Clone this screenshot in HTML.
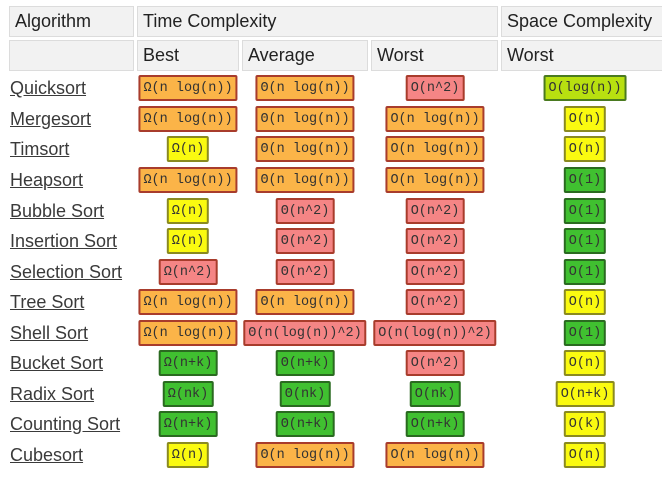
<!DOCTYPE html>
<html><head><meta charset="utf-8"><style>
body{margin:0;width:662px;height:478px;background:#fff;overflow:hidden;font-family:"Liberation Sans",sans-serif;position:relative}
.h{position:absolute;background:#f2f2f2;border:1px solid #dcdcdc;font-size:18px;color:#222;box-sizing:border-box;padding-left:5px;line-height:29px}
.r{position:absolute;left:0;width:662px;height:30px}
.a{position:absolute;left:10px;top:4px;font-size:18px;color:#3a3a3a;text-decoration:underline;line-height:22px}
.b{position:absolute;top:2px;height:26px;box-sizing:border-box;border:2px solid #a83c2c;border-radius:2px;font-family:"Liberation Mono",monospace;font-size:13.5px;line-height:23px;padding:0 3px;transform:translateX(-50%);white-space:nowrap;color:#333}
.o{background:#fbb448}.rd{background:#f58585}.y{background:#fafa10;border-color:#8a8a20}.g{background:#40c030;border-color:#2a6a20}.l{background:#b8e010;border-color:#4a7a20}
.c1{left:188px}.c2{left:305px}.c3{left:435px}.c4{left:585px}
</style></head><body>
<div class="h" style="left:9px;top:6px;width:125px;height:31px">Algorithm</div>
<div class="h" style="left:137px;top:6px;width:361px;height:31px">Time Complexity</div>
<div class="h" style="left:501px;top:6px;width:170px;height:31px">Space Complexity</div>
<div class="h" style="left:9px;top:40px;width:125px;height:31px"></div>
<div class="h" style="left:137px;top:40px;width:102px;height:31px">Best</div>
<div class="h" style="left:242px;top:40px;width:126px;height:31px">Average</div>
<div class="h" style="left:371px;top:40px;width:127px;height:31px">Worst</div>
<div class="h" style="left:501px;top:40px;width:170px;height:31px">Worst</div>

<div class="r" style="top:73px"><span class="a">Quicksort</span><span class="b o c1">Ω(n log(n))</span><span class="b o c2">Θ(n log(n))</span><span class="b rd c3">O(n^2)</span><span class="b l c4">O(log(n))</span></div>
<div class="r" style="top:104px"><span class="a">Mergesort</span><span class="b o c1">Ω(n log(n))</span><span class="b o c2">Θ(n log(n))</span><span class="b o c3">O(n log(n))</span><span class="b y c4">O(n)</span></div>
<div class="r" style="top:134px"><span class="a">Timsort</span><span class="b y c1">Ω(n)</span><span class="b o c2">Θ(n log(n))</span><span class="b o c3">O(n log(n))</span><span class="b y c4">O(n)</span></div>
<div class="r" style="top:165px"><span class="a">Heapsort</span><span class="b o c1">Ω(n log(n))</span><span class="b o c2">Θ(n log(n))</span><span class="b o c3">O(n log(n))</span><span class="b g c4">O(1)</span></div>
<div class="r" style="top:196px"><span class="a">Bubble Sort</span><span class="b y c1">Ω(n)</span><span class="b rd c2">Θ(n^2)</span><span class="b rd c3">O(n^2)</span><span class="b g c4">O(1)</span></div>
<div class="r" style="top:226px"><span class="a">Insertion Sort</span><span class="b y c1">Ω(n)</span><span class="b rd c2">Θ(n^2)</span><span class="b rd c3">O(n^2)</span><span class="b g c4">O(1)</span></div>
<div class="r" style="top:257px"><span class="a">Selection Sort</span><span class="b rd c1">Ω(n^2)</span><span class="b rd c2">Θ(n^2)</span><span class="b rd c3">O(n^2)</span><span class="b g c4">O(1)</span></div>
<div class="r" style="top:287px"><span class="a">Tree Sort</span><span class="b o c1">Ω(n log(n))</span><span class="b o c2">Θ(n log(n))</span><span class="b rd c3">O(n^2)</span><span class="b y c4">O(n)</span></div>
<div class="r" style="top:318px"><span class="a">Shell Sort</span><span class="b o c1">Ω(n log(n))</span><span class="b rd c2">Θ(n(log(n))^2)</span><span class="b rd c3">O(n(log(n))^2)</span><span class="b g c4">O(1)</span></div>
<div class="r" style="top:348px"><span class="a">Bucket Sort</span><span class="b g c1">Ω(n+k)</span><span class="b g c2">Θ(n+k)</span><span class="b rd c3">O(n^2)</span><span class="b y c4">O(n)</span></div>
<div class="r" style="top:379px"><span class="a">Radix Sort</span><span class="b g c1">Ω(nk)</span><span class="b g c2">Θ(nk)</span><span class="b g c3">O(nk)</span><span class="b y c4">O(n+k)</span></div>
<div class="r" style="top:409px"><span class="a">Counting Sort</span><span class="b g c1">Ω(n+k)</span><span class="b g c2">Θ(n+k)</span><span class="b g c3">O(n+k)</span><span class="b y c4">O(k)</span></div>
<div class="r" style="top:440px"><span class="a">Cubesort</span><span class="b y c1">Ω(n)</span><span class="b o c2">Θ(n log(n))</span><span class="b o c3">O(n log(n))</span><span class="b y c4">O(n)</span></div>
</body></html>
